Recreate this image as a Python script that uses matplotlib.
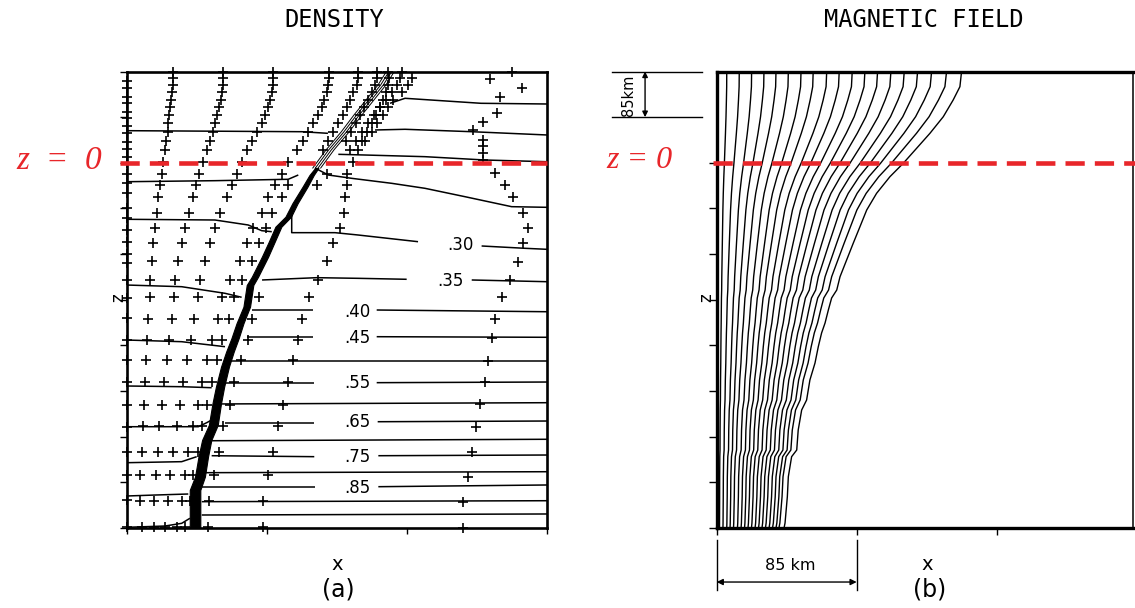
import numpy as np
import matplotlib
matplotlib.use("Agg")
import matplotlib.pyplot as plt

# ---------------- data (lengths in km) ----------------
z_top, z_bottom = 170.0, -680.0
x_right_a, x_right_b = 255.0, 253.0
grid_step = 85.0

# --- density contour pieces (x, z) ---
c01_x = [159.7, 168.8, 214.9, 255]; c01_z = [110.8, 120.1, 110.8, 109.5]
c02_x = [0, 106.1, 122.0]; c02_z = [59.8, 57.9, 54.9]
c03_x = [150.6, 168.8, 209.3, 255]; c03_z = [61.1, 62.4, 57.9, 51.8]
c04_x = [128.3, 144.5, 180.9, 217.3, 255]; c04_z = [15.8, 14.5, 11.4, 5.2, 2.0]
c05_x = [0, 53.4, 97.9, 104.0]; c05_z = [-35.2, -33.3, -30.7, -22.7]
c06_x = [114.1, 122.2, 136.4, 160.7, 180.9, 205.2, 233.5, 255]
c06_z = [-9.7, -22.7, -28.9, -38.2, -47.5, -63.1, -81.7, -82.9]
c07_x = [0, 53.4, 73.6, 81.8, 87.9]; c07_z = [-105.2, -106.5, -115.8, -126.4, -128.3]
c08_x = [100.0, 100.0, 126.3, 140.2, 176.7]; c08_z = [-94.0, -130.1, -130.1, -134.4, -146.9]
c09_x = [215.3, 241.6, 255]; c09_z = [-154.9, -159.2, -161.1]
c10_x = [0, 33.2, 59.5, 69.6]; c10_z = [-227.6, -230.7, -243.0, -250.4]
c11_x = [82.0, 115.2, 140.4, 169.8]; c11_z = [-218.2, -213.9, -215.1, -216.9]
c12_x = [209.3, 255]; c12_z = [-218.2, -221.4]
c13_x = [75.7, 113.1]; c13_z = [-274.1, -274.1]
c14_x = [151.6, 255]; c14_z = [-274.1, -277.3]
c15_x = [0, 33.2, 59.5]; c15_z = [-330.0, -333.1, -342.4]
c16_x = [72.7, 113.1]; c16_z = [-323.8, -323.8]
c17_x = [151.6, 255]; c17_z = [-323.8, -324.9]
c18_x = [60.5, 255]; c18_z = [-368.5, -368.5]
c19_x = [0, 33.2, 51.4]; c19_z = [-415.6, -416.9, -418.8]
c20_x = [59.5, 113.7]; c20_z = [-410.6, -410.6]
c21_x = [151.6, 255]; c21_z = [-409.4, -408.2]
c22_x = [57.5, 255]; c22_z = [-449.0, -446.7]
c23_x = [0, 43.3, 48.4, 51.4]; c23_z = [-491.4, -491.4, -483.9, -478.9]
c24_x = [59.5, 113.7]; c24_z = [-483.9, -483.9]
c25_x = [152.2, 255]; c25_z = [-482.1, -480.8]
c26_x = [51.4, 255]; c26_z = [-517.5, -514.8]
c27_x = [0, 33.2, 42.3]; c27_z = [-558.4, -556.5, -547.2]
c28_x = [51.4, 113.7]; c28_z = [-545.4, -547.2]
c29_x = [152.6, 255]; c29_z = [-545.4, -544.1]
c30_x = [47.5, 255]; c30_z = [-577.0, -575.2]
c31_x = [0, 17.0, 37.2]; c31_z = [-620.4, -618.6, -616.7]
c32_x = [45.4, 114.1]; c32_z = [-604.2, -604.2]
c33_x = [152.6, 255]; c33_z = [-603.1, -599.9]
c34_x = [45.4, 255]; c34_z = [-631.0, -629.2]
c35_x = [45.4, 255]; c35_z = [-655.8, -653.9]
c36_x = [0, 23.1, 33.2, 38.2]; c36_z = [-678.7, -676.3, -671.3, -661.9]

label_text = ['.30', '.35', '.40', '.45', '.55', '.65', '.75', '.85']
label_x = [202.7, 196.6, 139.6, 139.6, 139.6, 139.6, 139.6, 139.6]
label_z = [-153.6, -221.0, -277.0, -326.8, -410.6, -482.1, -547.2, -604.6]

# --- steep density jump (band) ---
band_z = [-680, -609.3, -584.5, -547.2, -516.2, -488.2, -447.8, -416.9, -379.7, -351.7,
          -326.8, -298.9, -268.0, -227.6, -212.1, -174.8, -146.9, -119.0, -100.4, -75.4,
          -44.5, -22.7, -9.7]
band_x = [41.3, 41.3, 44.3, 46.3, 48.4, 52.4, 54.5, 56.5, 59.5, 62.5, 65.6, 68.6, 72.7,
          74.7, 77.7, 83.8, 87.9, 91.9, 97.9, 102.0, 108.1, 112.1, 115.2]
band_halfwidth = [3.2, 3.2, 3.0, 2.9, 2.8, 2.7, 2.6, 2.5, 2.4, 2.3, 2.2, 2.1, 2.0, 2.0,
                  1.9, 1.9, 1.8, 1.8, 1.7, 1.6, 1.5, 1.3, 1.0]
fan_z = [-9.7, 23.8, 57.3, 89.0, 116.9, 144.9, 169.0]
fan_x = [115.2, 123.2, 132.4, 140.2, 147.5, 154.8, 159.7]
fan_offsets = [-2.4, -0.8, 0.8, 2.4]

# --- Lagrangian markers ---
upper_rows_z = [170, 157, 145, 132, 117, 104, 89, 74, 58, 41, 24, 2, -20, -41, -64,
                -94, -121, -149, -182, -218, -249]
lower_rows_z = [-290, -330, -368, -408, -451, -491, -538, -581, -629, -679]
colA_z = [153, 139, 123, 111, 95, 83, 69, 55, 39, 25, 11, -1, -20, -38, -57, -85, -103,
          -125, -147, -169, -187, -218, -252, -289, -330, -367, -408, -451, -492, -538,
          -581, -628, -678]
colB_upper = [28.1, 28.1, 27.7, 27.1, 26.5, 26.1, 25.7, 25.1, 24.7, 23.7, 23.1, 22.0,
              21.1, 20.0, 19.0, 18.0, 17.0, 16.0, 15.0, 14.0, 14.0]
colB_lower = [12.9, 12.3, 11.4, 10.9, 10.3, 9.9, 8.9, 7.9, 7.9, 8.9]
colC_upper = [58.1, 58.5, 58.1, 57.5, 56.9, 56.0, 54.8, 53.4, 52.0, 50.4, 48.4, 46.0,
              43.9, 41.9, 40.2, 37.8, 35.2, 33.2, 31.1, 29.1, 28.7]
colC_lower = [27.1, 25.5, 24.1, 22.6, 21.1, 19.4, 18.6, 17.4, 16.6, 16.6]
colD_upper = [88.8, 88.8, 88.5, 87.8, 86.8, 85.4, 83.8, 81.8, 78.7, 75.7, 72.7, 69.6,
              66.6, 63.6, 60.5, 56.5, 53.4, 50.4, 47.3, 44.3, 42.9]
colD_lower = [40.9, 38.8, 36.2, 34.2, 32.2, 30.2, 28.1, 26.1, 24.7, 23.1]
colE_upper = [122.8, 122.8, 122.2, 121.2, 119.6, 118.2, 116.1, 113.1, 110.1, 107.0, 103.0,
              97.9, 93.9, 89.8, 85.8, 81.8, 76.7, 72.7, 68.6, 62.5, 57.8]
colE_lower = [55.4, 51.8, 48.4, 45.7, 42.9, 40.2, 37.2, 35.2, 33.2, 30.2]
colE2_upper = [97.7, 94.1, 88.0, 84.4, 80.1, 75.9, 69.8, 65.1]      # rows 13..20
colE2_lower = [61.9, 57.8, 54.4, 51.8, 48.4, 45.3, 43.3, 40.2, 38.2, 35.2]
colF = [140.4, 140.4, 139.5, 137.4, 135.4, 133.4, 131.0, 128.3, 125.3, 122.2, 119.2]
colG = [151.6, 151.6, 150.6, 148.7, 146.3, 143.9, 141.5, 139.0, 136.0, 133.0]
colH = [158.4, 159.1, 158.4, 157.2, 155.4, 153.6, 151.1, 148.7, 145.7, 142.6]
colI = [166.7, 165.7, 163.9, 160.9, 157.2, 153.6, 149.9, 146.3, 142.6, 139.0, 135.4]
colJ = [172.8, 170.8, 166.8, 161.7, 158.6, 155.6, 151.6, 148.6, 144.5, 140.2, 137.2,
        133.6, 133.4, 132.4, 131.9, 129.3, 125.3, 121.2, 116.1, 110.5]   # rows 1..20
colJ_lower = [106.1, 103.6, 101.0, 97.9, 94.9, 91.9, 88.8, 85.8, 82.8, 82.8]
colR0_z = [-20, -41, -249, -290, -330, -368, -408, -451, -491, -538, -581, -629, -679]
colR0_x = [121.2, 115.3, 80.1, 76.1, 73.3, 69.2, 65.1, 62.5, 58.5, 55.9, 53.0, 49.8, 49.0]
arc_x = [233.5, 239.6, 220.3, 226.4, 224.4, 216.3, 210.2, 216.3, 216.3, 216.3, 216.3,
         223.4, 229.4, 234.5, 240.5, 243.6, 240.5, 237.5, 232.5, 227.4, 223.4, 221.4,
         219.3, 217.3, 214.3, 211.8, 209.2, 207.2, 204.1, 204.1]
arc_z = [169.6, 138.7, 155.5, 123.1, 92.2, 76.5, 61.1, 42.5, 31.3, 18.8, 5.2, -19.6,
         -41.3, -63.1, -94.0, -122.0, -149.9, -184.2, -218.2, -249.3, -291.4, -326.8,
         -368.5, -407.6, -449.1, -491.4, -537.9, -584.5, -631.0, -680.6]

# --- magnetic field lines ---
field_top_x = [6.1, 13.7, 21.2, 28.7, 36.0, 43.5, 51.2, 58.6, 66.8, 74.4, 82.3, 90.0,
               97.7, 105.8, 113.9, 122.0, 130.5, 139.6, 148.7]
field_bottom_x = [1.7, 3.8, 6.1, 8.1, 10.2, 12.6, 14.8, 16.9, 19.0, 21.1, 23.3, 25.4,
                  27.5, 29.6, 31.8, 33.9, 36.0, 37.8, 40.9]
outer_z = [170.0, 141.7, 116.9, 85.8, 54.9, 27.0, -0.9, -25.9, -56.8, -87.9, -119.0,
           -149.9, -181.0, -212.1, -236.9, -251.7, -274.1, -298.3, -316.9, -342.4,
           -372.8, -404.4, -441.7, -460.3, -497.6, -534.8, -547.2, -584.5, -621.7,
           -670.7, -680.0]
outer_x = [148.7, 147.7, 143.6, 137.6, 129.5, 121.4, 113.3, 105.2, 97.1, 91.1, 87.0,
           82.9, 78.9, 74.9, 72.9, 69.8, 67.8, 65.8, 63.7, 61.7, 59.7, 56.6, 54.6, 51.6,
           49.5, 48.6, 45.5, 43.5, 42.9, 41.5, 40.9]

# ---------------- figure ----------------
RED = '#e8262a'
W, H = 1135, 608
fig = plt.figure(figsize=(W / 100, H / 100), dpi=100)
axA = fig.add_axes([127 / W, 80 / H, 420 / W, 456.5 / H])
axB = fig.add_axes([716.7 / W, 80 / H, 416.6 / W, 456.5 / H])

for ax, xr in ((axA, x_right_a), (axB, x_right_b)):
    ax.set_xlim(0, xr)
    ax.set_ylim(z_bottom, z_top)
    ax.tick_params(labelleft=False, labelbottom=False, direction='out',
                   color='k', width=1.0)

# ----- panel (a) -----
for s in axA.spines.values():
    s.set_linewidth(1.9)
axA.set_yticks(np.arange(z_bottom, z_top + 1, grid_step))
axA.set_xticks(np.arange(0, x_right_a + 1, grid_step))
axA.tick_params(axis='y', length=5)
axA.tick_params(axis='x', length=4)

contours = [(c01_x, c01_z), (c02_x, c02_z), (c03_x, c03_z), (c04_x, c04_z),
            (c05_x, c05_z), (c06_x, c06_z), (c07_x, c07_z), (c08_x, c08_z),
            (c09_x, c09_z), (c10_x, c10_z), (c11_x, c11_z), (c12_x, c12_z),
            (c13_x, c13_z), (c14_x, c14_z), (c15_x, c15_z), (c16_x, c16_z),
            (c17_x, c17_z), (c18_x, c18_z), (c19_x, c19_z), (c20_x, c20_z),
            (c21_x, c21_z), (c22_x, c22_z), (c23_x, c23_z), (c24_x, c24_z),
            (c25_x, c25_z), (c26_x, c26_z), (c27_x, c27_z), (c28_x, c28_z),
            (c29_x, c29_z), (c30_x, c30_z), (c31_x, c31_z), (c32_x, c32_z),
            (c33_x, c33_z), (c34_x, c34_z), (c35_x, c35_z), (c36_x, c36_z)]
for cx, cz in contours:
    axA.plot(cx, cz, color='k', lw=1.1, solid_capstyle='butt')

for t, lx, lz in zip(label_text, label_x, label_z):
    axA.text(lx, lz, t, fontsize=12, ha='center', va='center', color='k',
             family='DejaVu Sans')

bx = np.array(band_x); bhw = np.array(band_halfwidth)
axA.fill_betweenx(band_z, bx - bhw, bx + bhw, color='k', lw=0.8, edgecolor='k')
for off in fan_offsets:
    axA.plot(np.array(fan_x) + off, fan_z, color='k', lw=0.7)

mk = dict(marker='+', ms=6.5, mew=1.2, color='k', ls='none', clip_on=False, zorder=4)
axA.plot(np.zeros(len(colA_z)), colA_z, **mk)
for up, lo in ((colB_upper, colB_lower), (colC_upper, colC_lower),
               (colD_upper, colD_lower), (colE_upper, colE_lower)):
    axA.plot(up + lo, upper_rows_z + lower_rows_z, **mk)
axA.plot(colE2_upper + colE2_lower, upper_rows_z[13:] + lower_rows_z, **mk)
axA.plot(colF, upper_rows_z[:len(colF)], **mk)
axA.plot(colG, upper_rows_z[:len(colG)], **mk)
axA.plot(colH, upper_rows_z[:len(colH)], **mk)
axA.plot(colI, upper_rows_z[:len(colI)], **mk)
axA.plot(colJ + colJ_lower, upper_rows_z[1:] + lower_rows_z, **mk)
axA.plot(colR0_x, colR0_z, **mk)
axA.plot(arc_x, arc_z, **mk)

axA.axhline(0, xmin=-0.017, xmax=1.0, color=RED, lw=3.3, dashes=(4.2, 2.2),
            clip_on=False, zorder=6)

axA.text(0.493, 1.113, 'DENSITY', transform=axA.transAxes, ha='center', va='center',
         fontsize=17, family='DejaVu Sans Mono')
axA.text(-0.021, 0.504, 'z', transform=axA.transAxes, ha='center', va='center',
         rotation=90, fontsize=12)
axA.text(0.5, -0.079, 'x', transform=axA.transAxes, ha='center', va='center', fontsize=14)
axA.text(0.502, -0.135, '(a)', transform=axA.transAxes, ha='center', va='center',
         fontsize=17)

# ----- panel (b) -----
axB.spines['left'].set_linewidth(2.4)
axB.spines['top'].set_linewidth(2.4)
axB.spines['bottom'].set_linewidth(2.4)
axB.spines['right'].set_linewidth(1.1)
axB.set_yticks(np.arange(z_bottom, 1, grid_step))
axB.set_xticks(np.arange(0, x_right_b, grid_step))
axB.tick_params(axis='y', length=6)
axB.tick_params(axis='x', length=5)

oz = np.array(outer_z); ox = np.array(outer_x)
w = (z_top - oz) / (z_top - z_bottom)
for tx, bxv in zip(field_top_x, field_bottom_x):
    f = (tx / outer_x[0]) * (1 - w) + (bxv / outer_x[-1]) * w
    axB.plot(f * ox, oz, color='k', lw=1.0)

axB.axhline(0, xmin=-0.008, xmax=1.01, color=RED, lw=3.3, dashes=(4.2, 2.2),
            clip_on=False, zorder=6)

# 85 km scale bars
for zz in (z_top, z_top - grid_step):
    axB.plot([-63.6, -8.9], [zz, zz], color='k', lw=1.0, clip_on=False)
axB.annotate('', xy=(-43.5, z_top), xytext=(-43.5, z_top - grid_step),
             arrowprops=dict(arrowstyle='<|-|>', lw=1.0, color='k', shrinkA=0,
                             shrinkB=0, mutation_scale=8), annotation_clip=False)
axB.text(-53.8, 126.2, '85km', rotation=90, ha='center', va='center', fontsize=10.5)

for xx in (0, grid_step):
    axB.plot([xx, xx], [-702, -795], color='k', lw=1.0, clip_on=False)
axB.annotate('', xy=(0, -780.6), xytext=(grid_step, -780.6),
             arrowprops=dict(arrowstyle='<|-|>', lw=1.0, color='k', shrinkA=0,
                             shrinkB=0, mutation_scale=9), annotation_clip=False)
axB.text(44.5, -749, '85 km', ha='center', va='center', fontsize=11.5)

axB.text(0.498, 1.113, 'MAGNETIC FIELD', transform=axB.transAxes, ha='center',
         va='center', fontsize=17, family='DejaVu Sans Mono')
axB.text(-0.026, 0.504, 'z', transform=axB.transAxes, ha='center', va='center',
         rotation=90, fontsize=12)
axB.text(0.505, -0.079, 'x', transform=axB.transAxes, ha='center', va='center',
         fontsize=14)
axB.text(0.512, -0.135, '(b)', transform=axB.transAxes, ha='center', va='center',
         fontsize=17)

# red z = 0 annotations
fig.text(59 / W, (H - 161) / H, 'z  =  0', color=RED, fontsize=24, style='italic',
         family='Liberation Serif', ha='center', va='center')
fig.text(639 / W, (H - 161) / H, 'z = 0', color=RED, fontsize=23, style='italic',
         family='Liberation Serif', ha='center', va='center')

fig.savefig('out.png', dpi=100)
